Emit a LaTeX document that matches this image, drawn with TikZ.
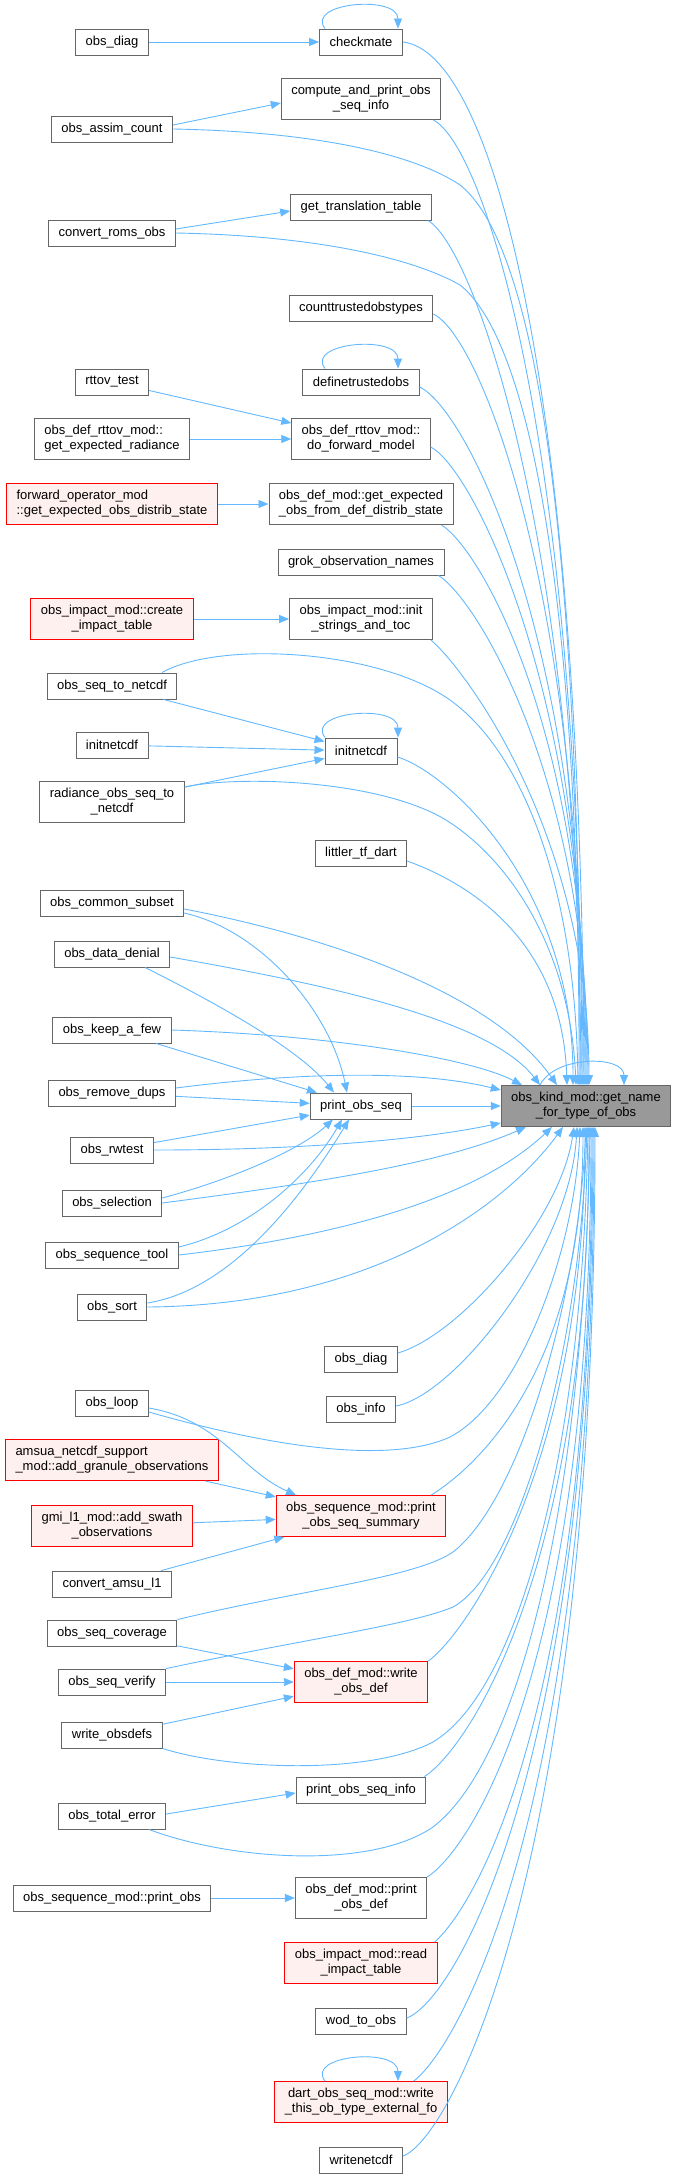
\documentclass[tikz,border=0pt]{standalone}
\usepackage{fontspec}
\setmainfont{Liberation Sans}
\usetikzlibrary{arrows.meta}
\definecolor{edgeblue}{HTML}{63B8FF}
\definecolor{boxgray}{HTML}{666666}
\definecolor{redfill}{HTML}{FFF0F0}
\definecolor{mainfill}{HTML}{999999}

\begin{document}
\begin{tikzpicture}[
  x=1pt, y=-1pt,
  fn/.style={draw=boxgray, fill=white, line width=0.9pt, inner xsep=10pt, inner ysep=2pt,
    minimum height=26pt, align=center, font=\fontsize{13}{15}\selectfont},
  fn2/.style={fn, minimum height=41pt},
  fnred/.style={fn2, draw=red, fill=redfill},
  fnmain/.style={fn2, fill=mainfill},
  call/.style={draw=edgeblue, line width=0.9pt, -{Triangle[length=10pt,width=8pt]}}
]
\useasboundingbox (0,0) rectangle (676,2178);

% called function
\node[fnmain] (main) at (586,1106) {obs\_kind\_mod::get\_name\\\_for\_type\_of\_obs};

% middle column
\node[fn] (checkmate) at (361,42) {checkmate};
\node[fn2] (cpinfo) at (361,99) {compute\_and\_print\_obs\\\_seq\_info};
\node[fn] (transtab) at (361,207) {get\_translation\_table};
\node[fn] (counttrusted) at (361,308) {counttrustedobstypes};
\node[fn] (definetrusted) at (361,382) {definetrustedobs};
\node[fn2] (fwdmodel) at (361,439) {obs\_def\_rttov\_mod::\\do\_forward\_model};
\node[fn2] (expobs) at (361,504) {obs\_def\_mod::get\_expected\\\_obs\_from\_def\_distrib\_state};
\node[fn] (grok) at (361,562) {grok\_observation\_names};
\node[fn2] (initstrings) at (361,619) {obs\_impact\_mod::init\\\_strings\_and\_toc};
\node[fn] (initnetcdfB) at (361,751) {initnetcdf};
\node[fn] (littler) at (361,853) {littler\_tf\_dart};
\node[fn] (printobsseq) at (361,1106) {print\_obs\_seq};
\node[fn] (od2) at (361,1359) {obs\_diag};
\node[fn] (obsinfo) at (361,1409) {obs\_info};
\node[fnred] (seqsummary) at (361,1516) {obs\_sequence\_mod::print\\\_obs\_seq\_summary};
\node[fnred] (writeobsdef) at (361,1682) {obs\_def\_mod::write\\\_obs\_def};
\node[fn] (seqinfo) at (361,1790) {print\_obs\_seq\_info};
\node[fn2] (printobsdef) at (361,1898) {obs\_def\_mod::print\\\_obs\_def};
\node[fnred] (readimpact) at (361,1963) {obs\_impact\_mod::read\\\_impact\_table};
\node[fn] (wod) at (361,2021) {wod\_to\_obs};
\node[fnred] (dart) at (361,2102) {dart\_obs\_seq\_mod::write\\\_this\_ob\_type\_external\_fo};
\node[fn] (writenetcdf) at (361,2160) {writenetcdf};

% left column
\node[fn] (od1) at (112,42) {obs\_diag};
\node[fn] (assimcount) at (112,129) {obs\_assim\_count};
\node[fn] (romsobs) at (112,233) {convert\_roms\_obs};
\node[fn] (rttovtest) at (112,382) {rttov\_test};
\node[fn2, align=left] (expradiance) at (112,439) {obs\_def\_rttov\_mod::\\get\_expected\_radiance};
\node[fnred, align=left] (fwdop) at (112,504) {forward\_operator\_mod\\::get\_expected\_obs\_distrib\_state};
\node[fnred] (createimpact) at (112,619) {obs\_impact\_mod::create\\\_impact\_table};
\node[fn] (seqtonetcdf) at (112,686) {obs\_seq\_to\_netcdf};
\node[fn] (initnetcdfA) at (112,745) {initnetcdf};
\node[fn2] (radiance) at (112,802) {radiance\_obs\_seq\_to\\\_netcdf};
\node[fn] (commonsubset) at (112,903) {obs\_common\_subset};
\node[fn] (datadenial) at (112,954) {obs\_data\_denial};
\node[fn] (keepafew) at (112,1030) {obs\_keep\_a\_few};
\node[fn] (removedups) at (112,1093) {obs\_remove\_dups};
\node[fn] (rwtest) at (112,1150) {obs\_rwtest};
\node[fn] (selection) at (112,1203) {obs\_selection};
\node[fn] (seqtool) at (112,1255) {obs\_sequence\_tool};
\node[fn] (obssort) at (112,1307) {obs\_sort};
\node[fn] (obsloop) at (112,1403) {obs\_loop};
\node[fnred, align=left] (amsua) at (112,1460) {amsua\_netcdf\_support\\\_mod::add\_granule\_observations};
\node[fnred] (gmi) at (112,1526) {gmi\_l1\_mod::add\_swath\\\_observations};
\node[fn] (amsul1) at (112,1584) {convert\_amsu\_l1};
\node[fn] (coverage) at (112,1633) {obs\_seq\_coverage};
\node[fn] (seqverify) at (112,1682) {obs\_seq\_verify};
\node[fn] (writeobsdefs) at (112,1735) {write\_obsdefs};
\node[fn] (totalerror) at (112,1816) {obs\_total\_error};
\node[fn] (printobs) at (112,1898) {obs\_sequence\_mod::print\_obs};

% self calls
\draw[call] ([xshift=-36pt]checkmate.north) .. controls +(-20,-26) and +(0,-34) .. ([xshift=37pt]checkmate.north);
\draw[call] ([xshift=-36pt]definetrusted.north) .. controls +(-20,-26) and +(0,-34) .. ([xshift=37pt]definetrusted.north);
\draw[call] ([xshift=-36pt]initnetcdfB.north) .. controls +(-20,-26) and +(0,-34) .. ([xshift=37pt]initnetcdfB.north);
\draw[call] ([xshift=-36pt]dart.north) .. controls +(-20,-26) and +(0,-34) .. ([xshift=37pt]dart.north);
\draw[call] ([xshift=-46pt]main.north) .. controls +(15,-30) and +(0,-30) .. ([xshift=38pt]main.north);

% left to middle
\draw[call] (od1) -- (checkmate);
\draw[call] ([yshift=4pt]assimcount.east) -- ([yshift=-4pt]cpinfo.west);
\draw[call] ([yshift=4pt]romsobs.east) -- ([yshift=-4pt]transtab.west);
\draw[call] (rttovtest) -- (fwdmodel);
\draw[call] (expradiance) -- (fwdmodel);
\draw[call] (fwdop) -- (expobs);
\draw[call] (createimpact) -- (initstrings);
\draw[call] (seqtonetcdf) -- (initnetcdfB);
\draw[call] (initnetcdfA) -- (initnetcdfB);
\draw[call] (radiance) -- (initnetcdfB);
\draw[call] ([yshift=-10pt]commonsubset.east) .. controls (260,930) and (330,1010) .. ([xshift=-14pt]printobsseq.north);
\draw[call] ([xshift=33pt]datadenial.south) .. controls (220,1005) and (300,1050) .. ([xshift=-27pt]printobsseq.north);
\draw[call] (keepafew) -- (printobsseq);
\draw[call] (removedups) -- (printobsseq);
\draw[call] (rwtest) -- (printobsseq);
\draw[call] ([yshift=5pt]selection.east) .. controls (230,1180) and (300,1150) .. ([xshift=-28pt]printobsseq.south);
\draw[call] ([yshift=8pt]seqtool.east) .. controls (250,1230) and (310,1175) .. ([xshift=-19pt]printobsseq.south);
\draw[call] ([yshift=4pt]obssort.east) .. controls (230,1290) and (300,1200) .. ([xshift=-12pt]printobsseq.south);
\draw[call] ([yshift=-5pt]obsloop.east) .. controls (220,1420) and (240,1470) .. ([xshift=-65pt]seqsummary.north);
\draw[call] (amsua) -- (seqsummary);
\draw[call] (gmi) -- (seqsummary);
\draw[call] (amsul1) -- (seqsummary);
\draw[call] (coverage) -- (writeobsdef);
\draw[call] (seqverify) -- (writeobsdef);
\draw[call] (writeobsdefs) -- (writeobsdef);
\draw[call] ([yshift=2pt]totalerror.east) -- ([yshift=-3pt]seqinfo.west);
\draw[call] (printobs) -- (printobsdef);

% into main from above
\draw[call] (checkmate.east) .. controls +(90,10) and +(-3,-700) .. ([xshift=-2pt]main.north);
\draw[call] ([xshift=-8pt]cpinfo.south east) .. controls +(50,25) and +(-2,-650) .. ([xshift=-4pt]main.north);
\draw[call] (assimcount.east) .. controls (330,132) and (420,158) .. (460,185) .. controls (530,240) and (580,500) .. ([xshift=-6pt]main.north);
\draw[call] ([xshift=-4pt]transtab.south east) .. controls +(45,25) and +(-2,-550) .. ([xshift=-5pt]main.north);
\draw[call] (romsobs.east) .. controls (330,236) and (420,262) .. (460,285) .. controls (530,340) and (580,600) .. ([xshift=-7pt]main.north);
\draw[call] ([yshift=-6pt]counttrusted.east) .. controls +(45,20) and +(0,-500) .. ([xshift=-3pt]main.north);
\draw[call] ([yshift=-5pt]definetrusted.east) .. controls +(45,20) and +(0,-450) .. ([xshift=-1pt]main.north);
\draw[call] ([yshift=-8pt]fwdmodel.east) .. controls +(40,20) and +(0,-400) .. (main.north);
\draw[call] ([xshift=-12pt]expobs.south east) .. controls +(40,25) and +(0,-350) .. ([xshift=1pt]main.north);
\draw[call] ([xshift=-6pt]grok.south east) .. controls +(40,25) and +(0,-300) .. ([xshift=2pt]main.north);
\draw[call] ([xshift=-2pt]initstrings.south east) .. controls +(35,30) and +(0,-250) .. ([xshift=3pt]main.north);
\draw[call] ([xshift=50pt]seqtonetcdf.north) .. controls (220,640) and (380,650) .. (450,700) .. controls (520,750) and (575,880) .. ([xshift=-8pt]main.north);
\draw[call] ([yshift=15pt]radiance.east) .. controls (240,775) and (380,780) .. (446,820) .. controls (510,860) and (570,950) .. ([xshift=-10pt]main.north);
\draw[call] ([yshift=-6pt]initnetcdfB.east) .. controls +(50,15) and +(0,-200) .. ([xshift=-13pt]main.north);
\draw[call] ([yshift=-8pt]littler.east) .. controls +(55,20) and +(-5,-150) .. ([xshift=-19pt]main.north);
\draw[call] ([yshift=-6pt]commonsubset.east) .. controls (320,935) and (490,990) .. ([xshift=-29pt]main.north);
\draw[call] ([yshift=-3pt]datadenial.east) .. controls (330,985) and (490,1020) .. ([xshift=-46pt]main.north);
\draw[call] (keepafew.east) .. controls (330,1035) and (470,1058) .. ([xshift=-64pt]main.north);

% into main from the side
\draw[call] ([yshift=5pt]removedups.east) .. controls (300,1072) and (420,1070) .. ([yshift=-5pt]main.north west);
\draw[call] (printobsseq) -- (main);
\draw[call] (rwtest.east) .. controls (300,1150) and (420,1140) .. ([yshift=4pt]main.south west);

% into main from below
\draw[call] (selection.east) .. controls (300,1185) and (440,1165) .. ([xshift=-60pt]main.south);
\draw[call] (seqtool.east) .. controls (350,1235) and (480,1195) .. ([xshift=-34pt]main.south);
\draw[call] (obssort.east) .. controls (380,1305) and (510,1200) .. ([xshift=-23pt]main.south);
\draw[call] ([yshift=6pt]od2.east) .. controls (460,1335) and (560,1220) .. ([xshift=-12pt]main.south);
\draw[call] ([yshift=3pt]obsinfo.east) .. controls (455,1395) and (570,1250) .. ([xshift=-9pt]main.south);
\draw[call] ([yshift=-9pt]obsloop.east) .. controls (300,1455) and (400,1460) .. (450,1437) .. controls (520,1400) and (575,1250) .. ([xshift=-6pt]main.south);
\draw[call] ([xshift=-15pt]seqsummary.north east) .. controls +(40,-25) and +(0,250) .. ([xshift=-3pt]main.south);
\draw[call] (coverage.north east) .. controls (300,1590) and (415,1578) .. (453,1552) .. controls (520,1500) and (578,1300) .. (main.south);
\draw[call] (seqverify.north east) .. controls (300,1640) and (410,1625) .. (453,1607) .. controls (520,1570) and (580,1350) .. ([xshift=1pt]main.south);
\draw[call] (writeobsdefs.south east) .. controls (230,1770) and (370,1775) .. (433,1742) .. controls (520,1690) and (582,1450) .. ([xshift=2pt]main.south);
\draw[call] (writeobsdef.north east) .. controls +(30,-20) and +(0,350) .. ([xshift=-1pt]main.south);
\draw[call] ([xshift=-2pt]seqinfo.north east) .. controls +(40,-25) and +(0,450) .. ([xshift=3pt]main.south);
\draw[call] ([xshift=37pt]totalerror.south) .. controls (230,1860) and (370,1870) .. (433,1827) .. controls (520,1760) and (584,1500) .. ([xshift=4pt]main.south);
\draw[call] (printobsdef.north east) .. controls +(40,-25) and +(0,550) .. ([xshift=5pt]main.south);
\draw[call] ([xshift=-3pt]readimpact.north east) .. controls +(35,-30) and +(0,600) .. ([xshift=6pt]main.south);
\draw[call] ([yshift=3pt]wod.east) .. controls +(45,-15) and +(0,650) .. ([xshift=7pt]main.south);
\draw[call] ([xshift=-34pt]dart.north east) .. controls +(40,-30) and +(0,700) .. ([xshift=8pt]main.south);
\draw[call] ([yshift=4pt]writenetcdf.east) .. controls +(45,-15) and +(0,750) .. ([xshift=9pt]main.south);
\end{tikzpicture}
\end{document}
